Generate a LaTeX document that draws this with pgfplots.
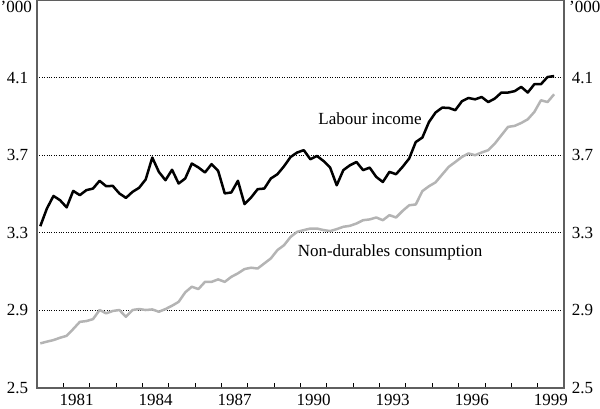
\documentclass[border=0pt]{standalone}
\usepackage{fontspec}
\setmainfont{Liberation Serif}
\usepackage{pgfplots}
\usepackage{pgfplotstable}
\pgfplotsset{compat=1.18}
\definecolor{axisgray}{RGB}{95,95,95}
\definecolor{lightg}{RGB}{180,180,180}

\pgfplotstableread{
t v
1980.125 3.334
1980.375 3.425
1980.625 3.490
1980.875 3.468
1981.125 3.431
1981.375 3.516
1981.625 3.494
1981.875 3.520
1982.125 3.528
1982.375 3.568
1982.625 3.540
1982.875 3.542
1983.125 3.503
1983.375 3.480
1983.625 3.511
1983.875 3.532
1984.125 3.575
1984.375 3.688
1984.625 3.614
1984.875 3.571
1985.125 3.625
1985.375 3.554
1985.625 3.580
1985.875 3.657
1986.125 3.637
1986.375 3.611
1986.625 3.654
1986.875 3.619
1987.125 3.503
1987.375 3.508
1987.625 3.568
1987.875 3.448
1988.125 3.482
1988.375 3.525
1988.625 3.528
1988.875 3.580
1989.125 3.602
1989.375 3.643
1989.625 3.691
1989.875 3.714
1990.125 3.726
1990.375 3.679
1990.625 3.696
1990.875 3.670
1991.125 3.636
1991.375 3.545
1991.625 3.623
1991.875 3.648
1992.125 3.665
1992.375 3.623
1992.625 3.636
1992.875 3.588
1993.125 3.562
1993.375 3.614
1993.625 3.602
1993.875 3.640
1994.125 3.683
1994.375 3.768
1994.625 3.791
1994.875 3.871
1995.125 3.920
1995.375 3.945
1995.625 3.944
1995.875 3.932
1996.125 3.978
1996.375 3.995
1996.625 3.988
1996.875 4.000
1997.125 3.974
1997.375 3.992
1997.625 4.023
1997.875 4.023
1998.125 4.030
1998.375 4.052
1998.625 4.023
1998.875 4.066
1999.125 4.066
1999.375 4.103
1999.625 4.108
}\labour

\pgfplotstableread{
t v
1980.125 2.730
1980.375 2.739
1980.625 2.747
1980.875 2.759
1981.125 2.769
1981.375 2.804
1981.625 2.841
1981.875 2.845
1982.125 2.855
1982.375 2.902
1982.625 2.885
1982.875 2.897
1983.125 2.902
1983.375 2.867
1983.625 2.902
1983.875 2.907
1984.125 2.902
1984.375 2.905
1984.625 2.893
1984.875 2.907
1985.125 2.924
1985.375 2.944
1985.625 2.993
1985.875 3.022
1986.125 3.010
1986.375 3.047
1986.625 3.047
1986.875 3.060
1987.125 3.047
1987.375 3.073
1987.625 3.091
1987.875 3.113
1988.125 3.120
1988.375 3.116
1988.625 3.142
1988.875 3.168
1989.125 3.211
1989.375 3.236
1989.625 3.279
1989.875 3.305
1990.125 3.314
1990.375 3.322
1990.625 3.322
1990.875 3.314
1991.125 3.309
1991.375 3.319
1991.625 3.331
1991.875 3.336
1992.125 3.348
1992.375 3.365
1992.625 3.369
1992.875 3.379
1993.125 3.365
1993.375 3.391
1993.625 3.379
1993.875 3.413
1994.125 3.442
1994.375 3.446
1994.625 3.515
1994.875 3.540
1995.125 3.560
1995.375 3.600
1995.625 3.640
1995.875 3.665
1996.125 3.691
1996.375 3.709
1996.625 3.700
1996.875 3.714
1997.125 3.726
1997.375 3.760
1997.625 3.803
1997.875 3.846
1998.125 3.851
1998.375 3.866
1998.625 3.885
1998.875 3.923
1999.125 3.983
1999.375 3.974
1999.625 4.014
}\consump

\begin{document}
\fontsize{17}{20}\selectfont
\begin{tikzpicture}
\path[use as bounding box] (-37pt,-20pt) rectangle (563pt,388pt);
\pgfplotsset{common/.style={
  width=527pt, height=388pt, scale only axis,
  xmin=1980, xmax=2000, ymin=2.5, ymax=4.5,
  at={(0,0)}, anchor=south west,
  axis line style={axisgray, line width=1.6pt},
  ytick={2.5,2.9,3.3,3.7,4.1},
  /pgf/number format/fixed,
  /pgf/number format/fixed zerofill,
  /pgf/number format/precision=1,
  /pgf/number format/assume math mode=true,
  major tick length=0pt,
  tick label style={font=\fontsize{17}{20}\selectfont, text=black},
  clip=false,
}}
\begin{axis}[common,
  yticklabel pos=left,
  yticklabel style={xshift=-3pt},
  xtick={1981.5,1984.5,1987.5,1990.5,1993.5,1996.5,1999.5},
  xticklabels={1981,1984,1987,1990,1993,1996,1999},
  minor xtick={1981,1982,...,1999},
  minor tick length=5pt,
  minor tick style={black, line width=0.8pt},
  xtick pos=left,
  ytick pos=left,
  ymajorgrids,
  major grid style={black, dotted, line width=0.7pt},
]
\addplot[lightg, line width=2.5pt, line join=round] table[x=t, y=v] {\consump};
\addplot[black, line width=2.5pt, line join=round] table[x=t, y=v] {\labour};
\node[font=\fontsize{17}{20}\selectfont] at (axis cs:1992.64,3.89) {Labour income};
\node[font=\fontsize{17}{20}\selectfont] at (axis cs:1993.40,3.20) {Non-durables consumption};
\node[anchor=north east, inner sep=0pt, xshift=-5pt, yshift=-1pt] at (rel axis cs:0,1) {’000};
\node[anchor=north west, inner sep=0pt, xshift=5pt, yshift=-1pt] at (rel axis cs:1,1) {’000};
\end{axis}
\begin{axis}[common,
  axis x line=none,
  axis y line*=right,
  yticklabel pos=right,
  yticklabel style={xshift=2pt},
  ytick pos=right,
]
\end{axis}
\end{tikzpicture}
\end{document}
